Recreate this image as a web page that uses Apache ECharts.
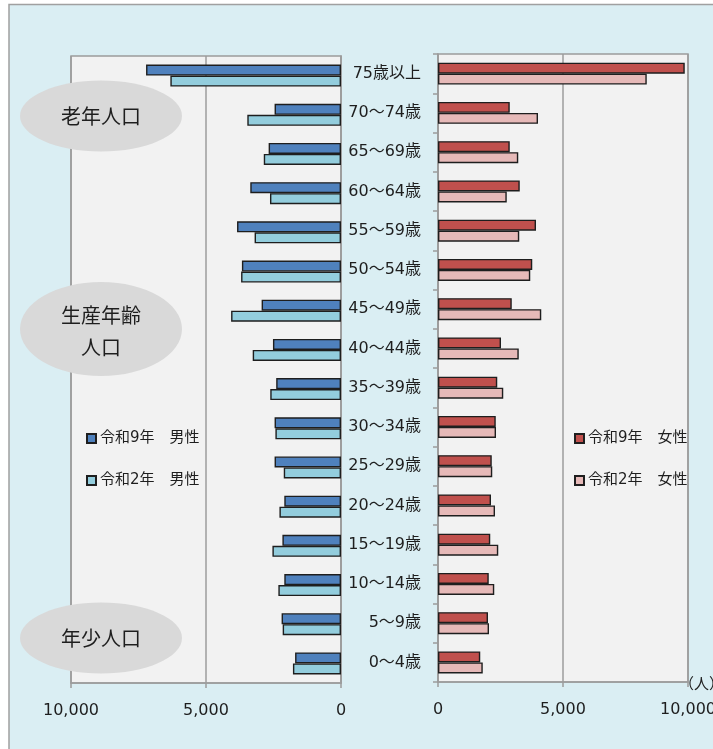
<!DOCTYPE html>
<html lang="ja">
<head>
<meta charset="utf-8">
<title>年齢別人口</title>
<script src="https://cdn.jsdelivr.net/npm/echarts@6/dist/echarts.min.js"></script>
<style>
  html, body { margin: 0; padding: 0; background: #ffffff; }
  #chart { width: 713px; height: 749px; }
</style>
</head>
<body>
<div id="chart"></div>
<script>
// 年齢階級（上から順）
const categories = [
  '75歳以上', '70～74歳', '65～69歳', '60～64歳', '55～59歳', '50～54歳',
  '45～49歳', '40～44歳', '35～39歳', '30～34歳', '25～29歳', '20～24歳',
  '15～19歳', '10～14歳', '5～9歳', '0～4歳'
];

// 人口（人）
const maleR9   = [7220, 2460, 2680, 3360, 3850, 3670, 2940, 2520, 2400, 2460, 2460, 2100, 2170, 2100, 2200, 1700];
const maleR2   = [6320, 3470, 2860, 2630, 3200, 3700, 4070, 3270, 2620, 2430, 2120, 2280, 2540, 2320, 2160, 1780];
const femaleR9 = [9870, 2870, 2870, 3270, 3920, 3770, 2950, 2520, 2370, 2310, 2150, 2120, 2090, 2030, 2000, 1690];
const femaleR2 = [8350, 4000, 3210, 2750, 3250, 3690, 4130, 3230, 2610, 2320, 2170, 2280, 2410, 2250, 2040, 1790];

const seriesNames = ['令和9年　男性', '令和2年　男性', '令和9年　女性', '令和2年　女性'];

// 横軸の目盛
const axisMin = 0;
const axisMax = 10000;
const axisStep = 5000;

const FONT = "'DejaVu Sans', 'Noto Sans CJK JP', sans-serif";
const TEXT = '#1E1E1E';
const GRAYLINE = '#9C9C9C';
const BAR_BORDER = '#1E1E1E';

const fmt = v => v.toLocaleString('en-US');

const chart = echarts.init(document.getElementById('chart'), null, { renderer: 'canvas' });

function valueAxis(gridIndex, inverse) {
  return {
    type: 'value',
    gridIndex: gridIndex,
    min: axisMin,
    max: axisMax,
    interval: axisStep,
    inverse: inverse,
    axisLine: { show: true, lineStyle: { color: GRAYLINE, width: 1.5 } },
    axisTick: { show: true, length: 5, lineStyle: { color: GRAYLINE, width: 1.5 } },
    splitLine: { show: true, lineStyle: { color: GRAYLINE, width: 1.5 } },
    axisLabel: {
      show: true, margin: 20, color: TEXT, fontFamily: FONT, fontSize: 16,
      showMinLabel: true, showMaxLabel: true, formatter: fmt
    }
  };
}

function legendAt(name, left, top) {
  return {
    data: [name],
    left: left,
    top: top,
    orient: 'vertical',
    itemWidth: 9,
    itemHeight: 9,
    itemGap: 0,
    padding: 0,
    icon: 'rect',
    selectedMode: false,
    textStyle: { fontFamily: FONT, fontSize: 15, color: TEXT, padding: [0, 0, 0, -1] }
  };
}

function barSeries(name, data, idx, color) {
  return {
    type: 'bar',
    name: name,
    data: data,
    xAxisIndex: idx,
    yAxisIndex: idx,
    barWidth: 11,
    barGap: '0%',
    itemStyle: { color: color, borderColor: BAR_BORDER, borderWidth: 1.4 },
    emphasis: { disabled: true },
    animation: false
  };
}

const option = {
  animation: false,
  backgroundColor: '#ffffff',
  textStyle: { fontFamily: FONT },
  grid: [
    { left: 71, top: 56, width: 270, height: 627, show: true, backgroundColor: '#F2F2F2',
      borderColor: GRAYLINE, borderWidth: 1.5, containLabel: false, outerBoundsMode: 'none' },
    { left: 438, top: 54, width: 250, height: 628, show: true, backgroundColor: '#F2F2F2',
      borderColor: GRAYLINE, borderWidth: 1.5, containLabel: false, outerBoundsMode: 'none' }
  ],
  xAxis: [valueAxis(0, true), valueAxis(1, false)],
  yAxis: [
    {
      type: 'category', gridIndex: 0, data: categories, inverse: true, position: 'right',
      axisLine: { show: true, lineStyle: { color: GRAYLINE, width: 1.5 } },
      axisTick: { show: false }, axisLabel: { show: false }, splitLine: { show: false }
    },
    {
      type: 'category', gridIndex: 1, data: categories, inverse: true, position: 'left',
      axisLine: { show: true, lineStyle: { color: GRAYLINE, width: 1.5 } },
      axisTick: { show: true, inside: false, length: 5, lineStyle: { color: GRAYLINE, width: 1.5 } },
      splitLine: { show: false },
      axisLabel: { show: true, margin: 17, color: TEXT, fontFamily: FONT, fontSize: 16, align: 'right', interval: 0 }
    }
  ],
  legend: [
    legendAt(seriesNames[0], 86, 431),
    legendAt(seriesNames[1], 86, 473),
    legendAt(seriesNames[2], 574, 431),
    legendAt(seriesNames[3], 574, 473)
  ],
  series: [
    barSeries(seriesNames[0], maleR9, 0, '#4F81BD'),
    barSeries(seriesNames[1], maleR2, 0, '#93CDDD'),
    barSeries(seriesNames[2], femaleR9, 1, '#C0504D'),
    barSeries(seriesNames[3], femaleR2, 1, '#E6B9B8')
  ],
  graphic: [
    // 外枠
    {
      type: 'rect', z: -100, silent: true,
      shape: { x: 9, y: 4.5, width: 760, height: 800 },
      style: { fill: '#DAEEF3', stroke: '#A0A0A0', lineWidth: 1.5 }
    },
    // 区分の楕円
    { type: 'ellipse', z: 100, silent: true, shape: { cx: 101, cy: 116, rx: 81, ry: 35.5 }, style: { fill: '#D9D9D9' } },
    { type: 'text', z: 101, silent: true, x: 101, y: 116,
      style: { text: '老年人口', font: "20px 'Noto Sans CJK JP'", fill: TEXT, align: 'center', verticalAlign: 'middle' } },
    { type: 'ellipse', z: 100, silent: true, shape: { cx: 101, cy: 329, rx: 81, ry: 47 }, style: { fill: '#D9D9D9' } },
    { type: 'text', z: 101, silent: true, x: 101, y: 315,
      style: { text: '生産年齢', font: "20px 'Noto Sans CJK JP'", fill: TEXT, align: 'center', verticalAlign: 'middle' } },
    { type: 'text', z: 101, silent: true, x: 101, y: 347,
      style: { text: '人口', font: "20px 'Noto Sans CJK JP'", fill: TEXT, align: 'center', verticalAlign: 'middle' } },
    { type: 'ellipse', z: 100, silent: true, shape: { cx: 101, cy: 638, rx: 81, ry: 35.5 }, style: { fill: '#D9D9D9' } },
    { type: 'text', z: 101, silent: true, x: 101, y: 638,
      style: { text: '年少人口', font: "20px 'Noto Sans CJK JP'", fill: TEXT, align: 'center', verticalAlign: 'middle' } },
    // 単位
    { type: 'text', z: 101, silent: true, x: 679, y: 683,
      style: { text: '（人）', font: "15px 'Noto Sans CJK JP'", fill: TEXT, align: 'left', verticalAlign: 'middle' } }
  ]
};

chart.setOption(option);
</script>
</body>
</html>
